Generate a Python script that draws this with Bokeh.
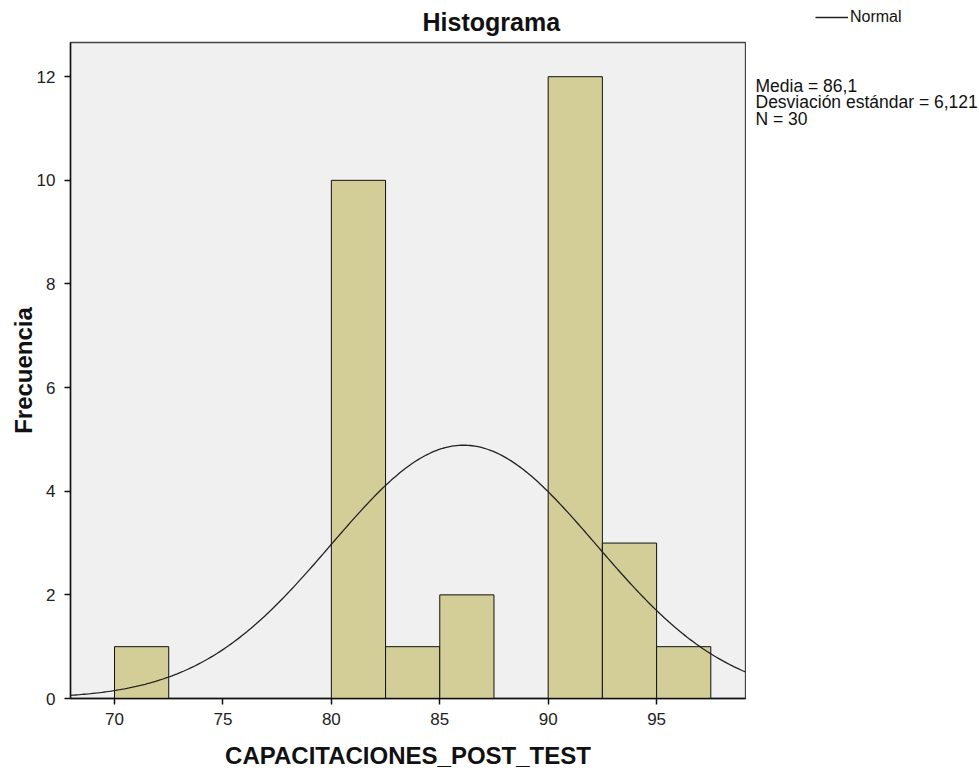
import numpy as np
from bokeh.plotting import figure
from bokeh.layouts import row, column
from bokeh.models import Range1d, FixedTicker, Legend, LegendItem
from bokeh.core.properties import value
from bokeh.embed import file_html
from bokeh.resources import INLINE

# ---- data ----
bin_left = [70.0, 80.0, 82.5, 85.0, 90.0, 92.5, 95.0]
counts = [1, 10, 1, 2, 12, 3, 1]
bin_width = 2.5
mean = 86.1
sd = 6.121
n = 30
x_ticks = [70, 75, 80, 85, 90, 95]
y_ticks = [0, 2, 4, 6, 8, 10, 12]
title_text = "Histograma"
x_label = "CAPACITACIONES_POST_TEST"
y_label = "Frecuencia"
legend_label = "Normal"
stats_lines = ["Media = 86,1", "Desviación estándar = 6,121", "N = 30"]

FONT = "Liberation Sans"
INK = "#111111"

x0, x1 = 67.97, 99.10
y0, y1 = 0.0, 12.66

# ---------------- main histogram ----------------
p = figure(width=746, height=731, output_backend="svg", toolbar_location=None,
           x_range=Range1d(x0, x1), y_range=Range1d(y0, y1),
           min_border_left=70, min_border_right=1, min_border_top=1,
           min_border_bottom=74)
p.background_fill_color = "#F0F0F0"
p.border_fill_color = "white"
p.outline_line_color = "#444444"
p.outline_line_width = 1.3
p.xgrid.visible = False
p.ygrid.visible = False

bin_right = [b + bin_width for b in bin_left]
p.quad(left=bin_left, right=bin_right, bottom=0, top=counts,
       fill_color="#D3CE97", line_color=INK, line_width=1)

# normal curve from the stated mean / sd, scaled to counts per bin
xs = np.linspace(x0, x1, 300)
ys = n * bin_width / (sd * np.sqrt(2 * np.pi)) * np.exp(-0.5 * ((xs - mean) / sd) ** 2)
p.line(xs, ys, line_color="#222222", line_width=1.3)

for ax in (p.xaxis[0], p.yaxis[0]):
    ax.axis_line_color = INK
    ax.axis_line_width = 1.5
    ax.major_tick_line_color = INK
    ax.major_tick_line_width = 1.5
    ax.major_tick_out = 6
    ax.major_tick_in = 0
    ax.minor_tick_line_color = None
    ax.major_label_text_font = FONT
    ax.major_label_text_font_size = "17px"
    ax.major_label_text_color = "#222222"
    ax.axis_label_text_font = FONT
    ax.axis_label_text_font_size = "24px"
    ax.axis_label_text_font_style = "bold"
    ax.axis_label_text_color = INK

p.xaxis.ticker = FixedTicker(ticks=x_ticks)
p.yaxis.ticker = FixedTicker(ticks=y_ticks)
p.xaxis.axis_label = x_label
p.yaxis.axis_label = y_label
p.xaxis.major_label_standoff = 8
p.xaxis.axis_label_standoff = 14
p.yaxis.major_label_standoff = 9
p.yaxis.axis_label_standoff = -3

# ---------------- title strip (frame aligned with the main frame: 70..745) ----------------
top = figure(width=746, height=41, output_backend="svg", toolbar_location=None,
             x_range=Range1d(70, 745), y_range=Range1d(41, 0),
             min_border=0, x_axis_type=None, y_axis_type=None)
top.outline_line_color = None
top.background_fill_color = "white"
top.border_fill_color = "white"
top.xgrid.visible = False
top.ygrid.visible = False
top.text(x=[422], y=[21], text=[title_text], text_font=value(FONT),
         text_font_size="25px", text_font_style="bold", text_align="left",
         text_baseline="middle", text_color=INK)

# ---------------- side panel: legend + statistics ----------------
side = figure(width=233, height=772, output_backend="svg", toolbar_location=None,
              x_range=Range1d(746, 979), y_range=Range1d(772, 0),
              min_border=0, x_axis_type=None, y_axis_type=None)
side.outline_line_color = None
side.background_fill_color = "white"
side.border_fill_color = "white"
side.xgrid.visible = False
side.ygrid.visible = False

key = side.line(x=[np.nan, np.nan], y=[np.nan, np.nan],
                line_color="#222222", line_width=1.3)
leg = Legend(items=[LegendItem(label=legend_label, renderers=[key])],
             location=(69, 746), padding=0, margin=0, spacing=0,
             glyph_width=33, glyph_height=18, label_standoff=2,
             border_line_color=None, background_fill_alpha=0,
             label_text_font=FONT, label_text_font_size="16px",
             label_text_color=INK)
side.add_layout(leg)

side.text(x=[755, 755, 755], y=[85, 101.5, 118], text=stats_lines,
          text_font=value(FONT), text_font_size="17.5px",
          text_baseline="middle", text_align="left", text_color=INK)

layout = row(column(top, p), side)
open("out.html", "w").write(file_html(layout, INLINE))
